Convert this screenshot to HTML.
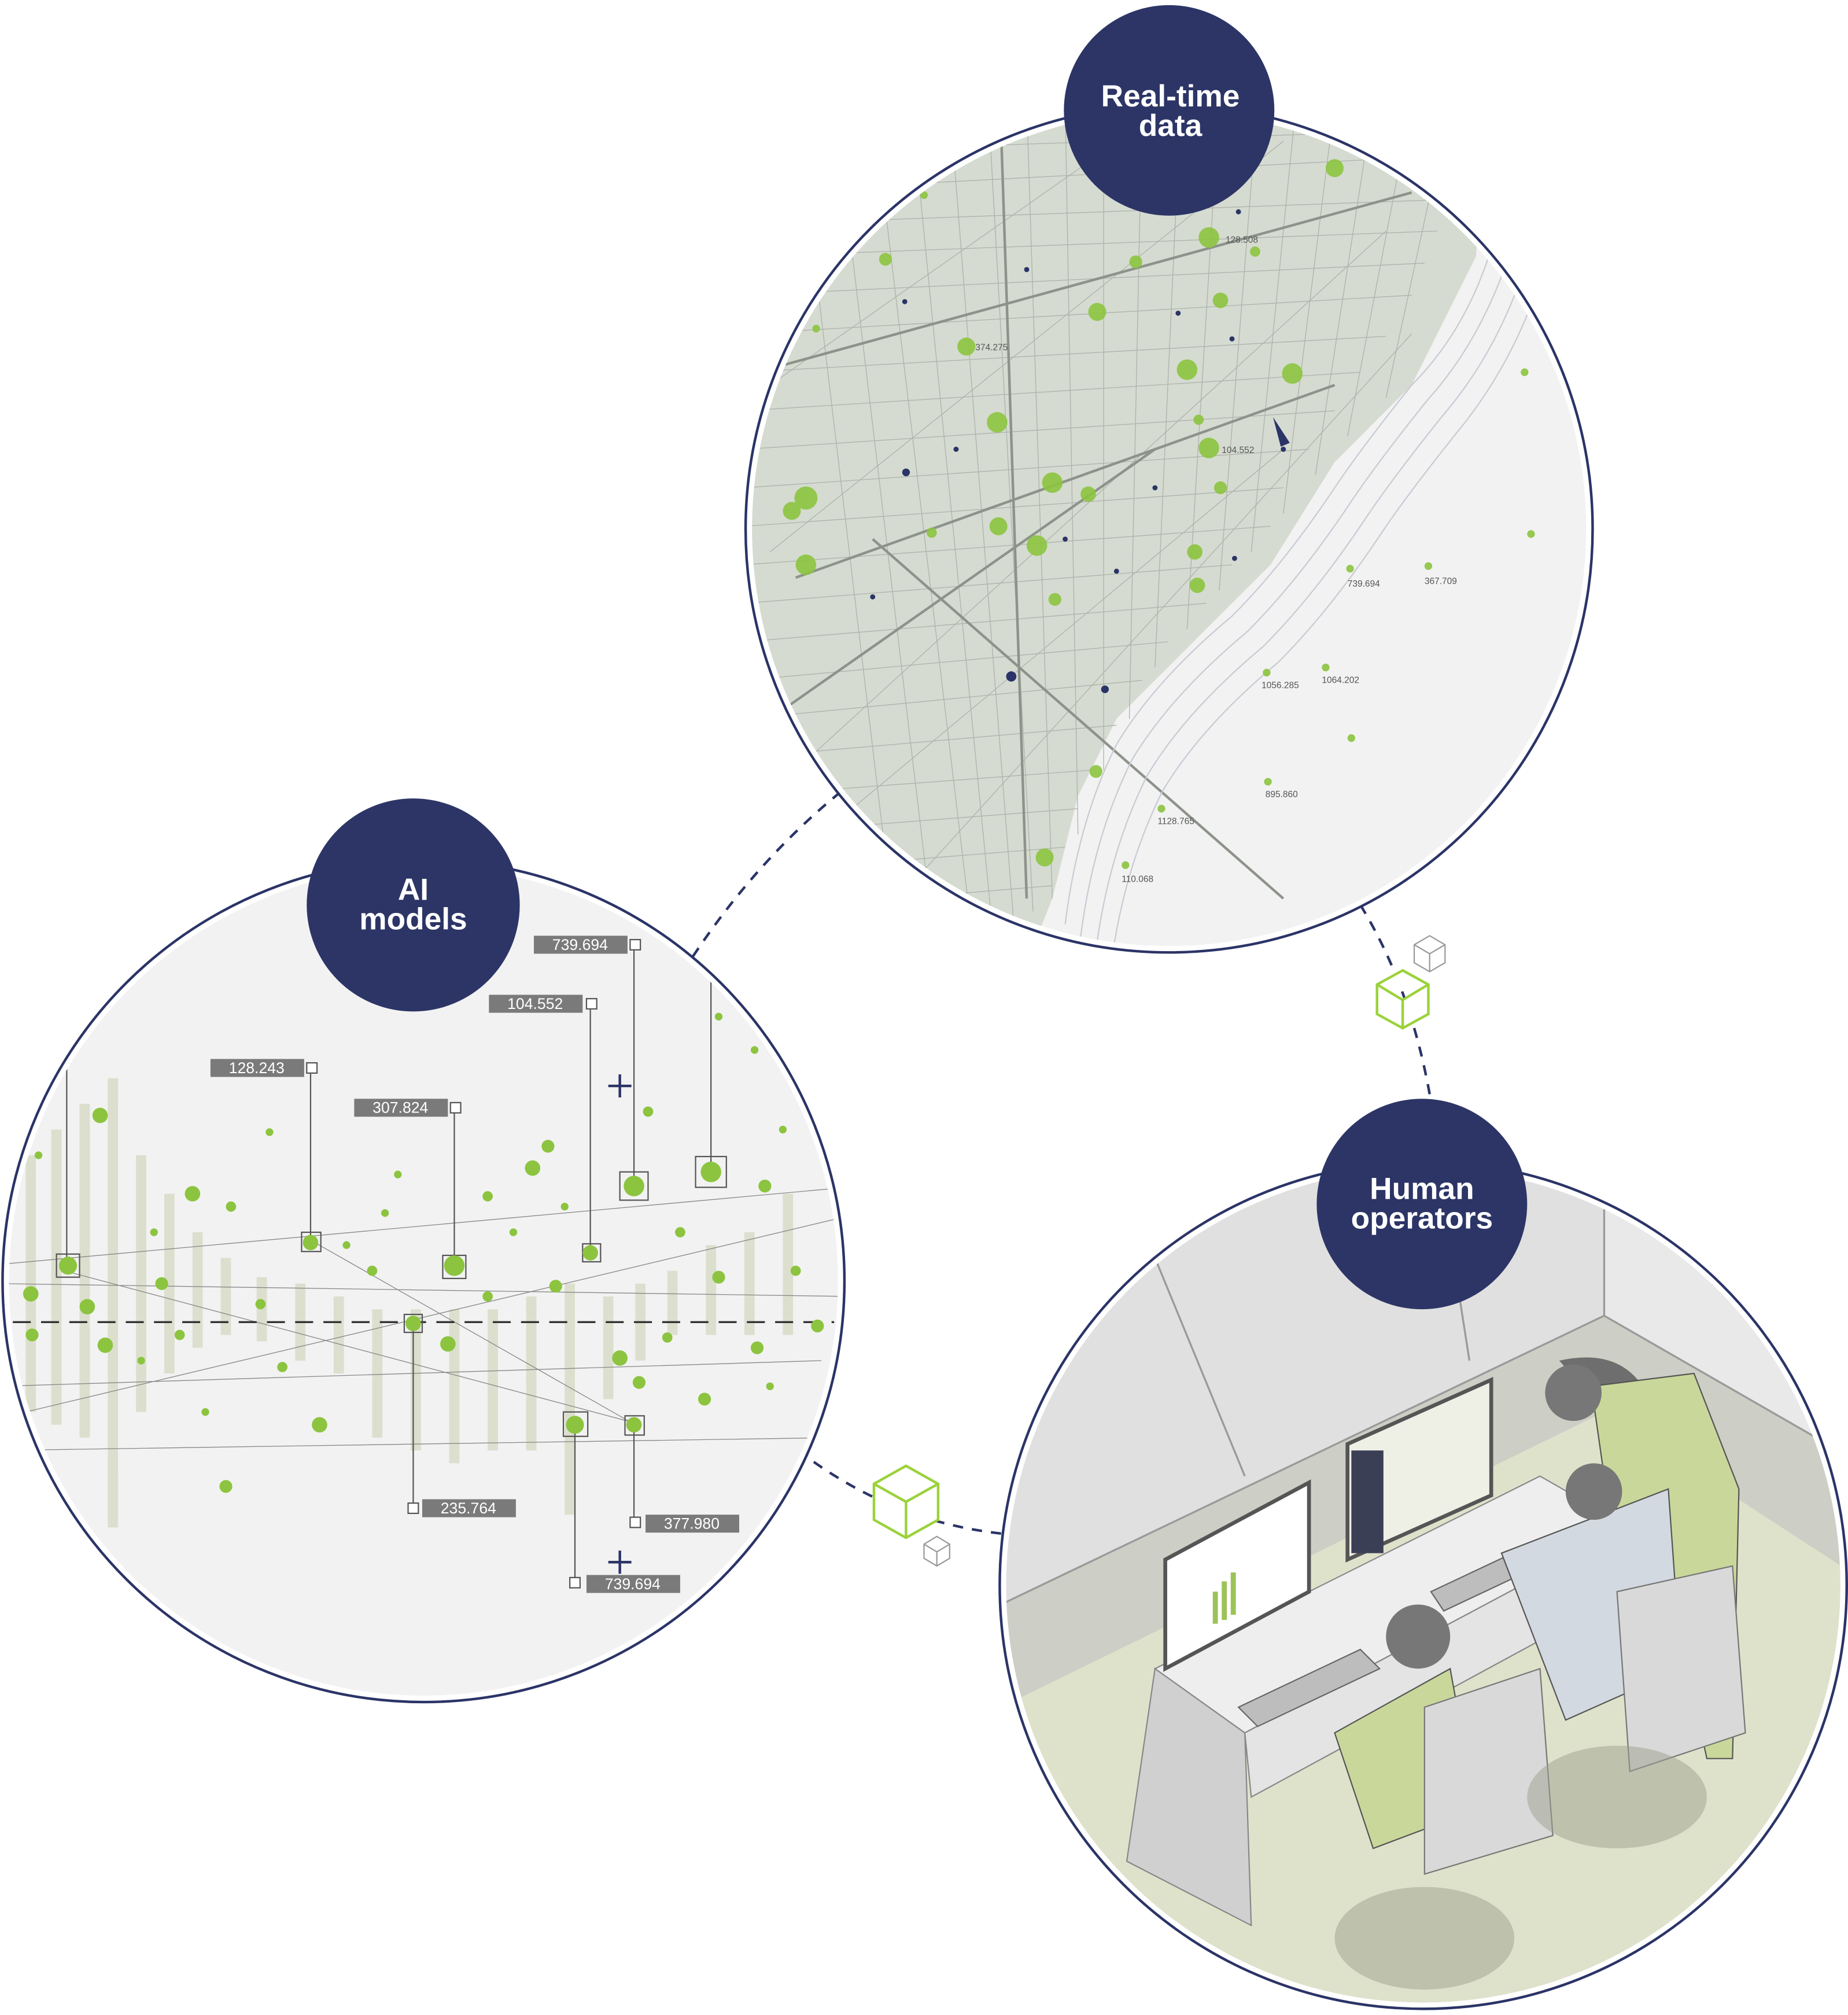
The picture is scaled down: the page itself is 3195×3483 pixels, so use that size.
<!DOCTYPE html>
<html><head><meta charset="utf-8"><style>
html,body{margin:0;padding:0;background:#fff}
svg{display:block}
text{font-family:"Liberation Sans",sans-serif}
</style></head><body>
<svg width="3195" height="3483" viewBox="0 0 1440 1569.8" xmlns="http://www.w3.org/2000/svg">
<defs>
<clipPath id="cm"><circle cx="911" cy="412" r="325"/></clipPath>
<clipPath id="ca"><circle cx="330" cy="998" r="323"/></clipPath>
<clipPath id="ch"><circle cx="1109" cy="1235" r="325"/></clipPath>
</defs>
<g fill="none" stroke="#2b3467" stroke-width="2" stroke-dasharray="8 7">
<path d="M655 617 Q590 670 540 745"/>
<path d="M622 1130 Q700 1190 795 1196"/>
<path d="M1060 705 Q1100 770 1115 858"/>
</g>
<g fill="#fff" stroke="#9bd23a" stroke-width="2">
<path d="M1093 756 L1113 767 L1113 790 L1093 801 L1073 790 L1073 767 Z M1073 767 L1093 779 L1113 767 M1093 779 L1093 801"/>
<path d="M706 1142 L731 1156 L731 1184 L706 1198 L681 1184 L681 1156 Z M681 1156 L706 1170 L731 1156 M706 1170 L706 1198"/>
</g>
<g fill="#fff" stroke="#999" stroke-width="1">
<path d="M1114 729 L1126 736 L1126 750 L1114 757 L1102 750 L1102 736 Z M1102 736 L1114 743 L1126 736 M1114 743 L1114 757"/>
<path d="M730 1197 L740 1203 L740 1214 L730 1220 L720 1214 L720 1203 Z M720 1203 L730 1209 L740 1203 M730 1209 L730 1220"/>
</g>

<!-- MAP circle -->
<circle cx="911" cy="412" r="330" fill="#fff" stroke="#2b3467" stroke-width="2"/>
<g clip-path="url(#cm)">
<rect x="580" y="80" width="670" height="670" fill="#f2f2f2"/>
<path d="M580 80 L1160 80 L1150 200 L1100 300 L1040 360 L990 440 L930 500 L870 560 L840 620 L820 700 L800 750 L580 750 Z" fill="#d5dbd0"/>
<g stroke="#aeb3ac" stroke-width="0.6" fill="none">
<path d="M580 120 L1150 100 M580 150 L1150 120 M580 175 L1140 155 M580 200 L1120 180 M580 230 L1110 205 M580 260 L1100 230 M580 290 L1080 262 M580 320 L1060 290 M580 350 L1040 320 M580 380 L1020 350 M580 410 L1000 380 M580 440 L990 410 M580 470 L960 440 M580 500 L940 470 M580 530 L910 500 M580 560 L890 530 M580 590 L870 565 M580 620 L850 600 M580 650 L840 630 M580 680 L830 660 M580 710 L820 690"/>
<path d="M620 80 L700 750 M650 80 L730 750 M680 80 L760 750 M710 80 L775 740 M740 80 L790 720 M770 80 L805 710 M800 80 L820 700 M830 80 L840 650 M860 80 L860 600 M890 80 L880 560 M920 80 L900 520 M950 80 L925 490 M980 80 L950 460 M1010 80 L975 430 M1040 80 L1000 400 M1070 80 L1025 370 M1100 80 L1050 340 M1130 80 L1080 310"/>
<path d="M600 430 L1000 110 M620 600 L1080 180 M700 700 L1100 260 M600 300 L900 90 M640 650 L1000 350"/>
</g>
<g stroke="#8d938a" stroke-width="2" fill="none">
<path d="M590 290 L1100 150 M620 450 L1040 300 M780 100 L800 700 M680 420 L1000 700 M600 560 L900 350"/>
</g>
<g stroke="#c8cbd3" stroke-width="1" fill="none">
<path d="M1160 200 Q1140 260 1100 300 Q1060 350 1040 380 Q1000 440 960 480 Q900 530 870 580 Q840 640 830 720"/>
<path d="M1172 210 Q1150 270 1112 312 Q1072 362 1052 392 Q1012 452 972 492 Q912 542 882 592 Q852 652 842 730"/>
<path d="M1184 220 Q1162 280 1124 324 Q1084 374 1064 404 Q1024 464 984 504 Q924 554 894 604 Q864 664 854 740"/>
<path d="M1196 230 Q1174 290 1136 336 Q1096 386 1076 416 Q1036 476 996 516 Q936 566 906 616 Q876 676 866 750"/>
</g>
<g fill="#2b3467">
<circle cx="918" cy="244" r="2"/><circle cx="960" cy="264" r="2"/><circle cx="800" cy="210" r="2"/><circle cx="705" cy="235" r="2"/><circle cx="830" cy="420" r="2"/>
<circle cx="870" cy="445" r="2"/><circle cx="706" cy="368" r="3"/><circle cx="788" cy="527" r="4"/><circle cx="861" cy="537" r="3"/><circle cx="962" cy="435" r="2"/>
<circle cx="965" cy="165" r="2"/><circle cx="745" cy="350" r="2"/><circle cx="680" cy="465" r="2"/><circle cx="900" cy="380" r="2"/><circle cx="1000" cy="350" r="2"/>
<path d="M992 325 L1005 345 L998 348 Z"/>
</g>
<g fill="#8cc43f" opacity="0.9">
<circle cx="1040" cy="131" r="7"/><circle cx="942" cy="185" r="8"/><circle cx="885" cy="204" r="5"/><circle cx="690" cy="202" r="5"/>
<circle cx="855" cy="243" r="7"/><circle cx="753" cy="270" r="7"/><circle cx="951" cy="234" r="6"/><circle cx="925" cy="288" r="8"/>
<circle cx="1007" cy="291" r="8"/><circle cx="777" cy="329" r="8"/><circle cx="942" cy="349" r="8"/><circle cx="820" cy="376" r="8"/>
<circle cx="628" cy="388" r="9"/><circle cx="617" cy="398" r="7"/><circle cx="778" cy="410" r="7"/><circle cx="808" cy="425" r="8"/>
<circle cx="628" cy="440" r="8"/><circle cx="848" cy="385" r="6"/><circle cx="931" cy="430" r="6"/><circle cx="933" cy="456" r="6"/>
<circle cx="822" cy="467" r="5"/><circle cx="854" cy="601" r="5"/><circle cx="814" cy="668" r="7"/><circle cx="951" cy="380" r="5"/>
<circle cx="1188" cy="290" r="3"/><circle cx="1193" cy="416" r="3"/><circle cx="1052" cy="443" r="3"/><circle cx="1113" cy="441" r="3"/>
<circle cx="987" cy="524" r="3"/><circle cx="1033" cy="520" r="3"/><circle cx="1053" cy="575" r="3"/><circle cx="988" cy="609" r="3"/>
<circle cx="905" cy="630" r="3"/><circle cx="877" cy="674" r="3"/><circle cx="726" cy="415" r="4"/><circle cx="636" cy="256" r="3"/>
<circle cx="720" cy="152" r="3"/><circle cx="978" cy="196" r="4"/><circle cx="934" cy="327" r="4"/>
</g>
<g font-size="7" fill="#555">
<text x="955" y="189">128.508</text><text x="760" y="273">374.275</text><text x="952" y="353">104.552</text>
<text x="1110" y="455">367.709</text><text x="1050" y="457">739.694</text><text x="983" y="536">1056.285</text>
<text x="1030" y="532">1064.202</text><text x="986" y="621">895.860</text><text x="902" y="642">1128.765</text><text x="874" y="687">110.068</text>
</g>
</g>
<circle cx="911" cy="86" r="82" fill="#2c3566"/>
<text x="912" y="83" fill="#fff" font-size="24" font-weight="bold" text-anchor="middle">Real-time</text>
<text x="912" y="106" fill="#fff" font-size="24" font-weight="bold" text-anchor="middle">data</text>

<!-- AI circle -->
<circle cx="330" cy="998" r="328" fill="#fff" stroke="#2b3467" stroke-width="2"/>
<circle cx="330" cy="998" r="323" fill="#f2f2f2"/>
<g clip-path="url(#ca)">
<g fill="#d9dcc8" opacity="0.85">
<rect x="20" y="900" width="8" height="200"/><rect x="40" y="880" width="8" height="230"/><rect x="62" y="860" width="8" height="260"/><rect x="84" y="840" width="8" height="350"/>
<rect x="106" y="900" width="8" height="200"/><rect x="128" y="930" width="8" height="140"/><rect x="150" y="960" width="8" height="90"/><rect x="172" y="980" width="8" height="60"/>
<rect x="200" y="995" width="8" height="50"/><rect x="230" y="1000" width="8" height="60"/>
<rect x="260" y="1010" width="8" height="60"/><rect x="290" y="1020" width="8" height="100"/><rect x="320" y="1020" width="8" height="110"/><rect x="350" y="1020" width="8" height="120"/>
<rect x="380" y="1020" width="8" height="110"/><rect x="410" y="1010" width="8" height="120"/><rect x="440" y="1000" width="8" height="180"/><rect x="470" y="1010" width="8" height="80"/>
<rect x="495" y="1000" width="8" height="60"/>
<rect x="520" y="990" width="8" height="50"/><rect x="550" y="970" width="8" height="70"/><rect x="580" y="960" width="8" height="80"/><rect x="610" y="930" width="8" height="110"/>
</g>
<g stroke="#888" stroke-width="0.6" fill="none">
<path d="M0 985 L660 925 M0 1000 L660 1010 M20 1100 L650 950 M0 1130 L650 1120 M50 990 L500 1110 M240 965 L495 1110 M0 1080 L640 1060"/>
</g>
<path d="M10 1030 L650 1030" stroke="#333" stroke-width="1.5" stroke-dasharray="14 8"/>
<g stroke="#555" stroke-width="1" fill="none">
<path d="M52 830 L52 986 M242 832 L242 968 M354 862 L354 986 M460 782 L460 976 M494 736 L494 924 M554 765 L554 913 M322 1030 L322 1175 M448 1110 L448 1233 M494 1110 L494 1186"/>
<rect x="44" y="977" width="18" height="18"/><rect x="235" y="960" width="15" height="15"/><rect x="345" y="978" width="18" height="18"/><rect x="454" y="969" width="14" height="14"/>
<rect x="483" y="913" width="22" height="22"/><rect x="542" y="901" width="24" height="24"/><rect x="315" y="1024" width="14" height="14"/><rect x="439" y="1100" width="19" height="19"/><rect x="487" y="1103" width="15" height="15"/>
</g>
<g fill="#8cc43f">
<circle cx="53" cy="986" r="7"/><circle cx="242" cy="968" r="6"/><circle cx="354" cy="986" r="8"/><circle cx="460" cy="976" r="6"/><circle cx="494" cy="924" r="8"/><circle cx="554" cy="913" r="8"/>
<circle cx="322" cy="1031" r="6"/><circle cx="448" cy="1110" r="7"/><circle cx="494" cy="1110" r="6"/>
<circle cx="78" cy="869" r="6"/><circle cx="150" cy="930" r="6"/><circle cx="24" cy="1008" r="6"/><circle cx="68" cy="1018" r="6"/><circle cx="82" cy="1048" r="6"/>
<circle cx="349" cy="1047" r="6"/><circle cx="249" cy="1110" r="6"/><circle cx="176" cy="1158" r="5"/><circle cx="415" cy="910" r="6"/><circle cx="427" cy="893" r="5"/>
<circle cx="483" cy="1058" r="6"/><circle cx="498" cy="1077" r="5"/><circle cx="549" cy="1090" r="5"/><circle cx="596" cy="924" r="5"/><circle cx="637" cy="1033" r="5"/>
<circle cx="433" cy="1002" r="5"/><circle cx="203" cy="1016" r="4"/><circle cx="126" cy="1000" r="5"/><circle cx="25" cy="1040" r="5"/><circle cx="560" cy="995" r="5"/>
<circle cx="505" cy="866" r="4"/><circle cx="560" cy="792" r="3"/><circle cx="588" cy="818" r="3"/><circle cx="210" cy="882" r="3"/><circle cx="180" cy="940" r="4"/>
<circle cx="300" cy="945" r="3"/><circle cx="380" cy="932" r="4"/><circle cx="520" cy="1042" r="4"/><circle cx="590" cy="1050" r="5"/><circle cx="140" cy="1040" r="4"/>
<circle cx="620" cy="990" r="4"/><circle cx="160" cy="1100" r="3"/><circle cx="610" cy="880" r="3"/><circle cx="30" cy="900" r="3"/><circle cx="290" cy="990" r="4"/>
<circle cx="270" cy="970" r="3"/><circle cx="400" cy="960" r="3"/><circle cx="530" cy="960" r="4"/><circle cx="110" cy="1060" r="3"/><circle cx="220" cy="1065" r="4"/>
<circle cx="380" cy="1010" r="4"/><circle cx="600" cy="1080" r="3"/><circle cx="120" cy="960" r="3"/><circle cx="310" cy="915" r="3"/><circle cx="440" cy="940" r="3"/>
</g>
<g fill="#7a7a7a">
<rect x="416" y="729" width="73" height="14"/><rect x="381" y="775" width="73" height="14"/><rect x="164" y="825" width="73" height="14"/><rect x="276" y="856" width="73" height="14"/>
<rect x="329" y="1168" width="73" height="14"/><rect x="503" y="1180" width="73" height="14"/><rect x="457" y="1227" width="73" height="14"/>
</g>
<g fill="#fff" font-family="Liberation Mono,monospace" font-size="12" text-anchor="middle">
<text x="452" y="740">739.694</text><text x="417" y="786">104.552</text><text x="200" y="836">128.243</text><text x="312" y="867">307.824</text>
<text x="365" y="1179">235.764</text><text x="539" y="1191">377.980</text><text x="493" y="1238">739.694</text>
</g>
<g fill="#fff" stroke="#555" stroke-width="1">
<rect x="491" y="732" width="8" height="8"/><rect x="457" y="778" width="8" height="8"/><rect x="239" y="828" width="8" height="8"/><rect x="351" y="859" width="8" height="8"/>
<rect x="318" y="1171" width="8" height="8"/><rect x="491" y="1182" width="8" height="8"/><rect x="444" y="1229" width="8" height="8"/>
</g>
<g stroke="#2b3467" stroke-width="2"><path d="M474 846 L492 846 M483 837 L483 855 M474 1217 L492 1217 M483 1208 L483 1226"/></g>
</g>
<circle cx="322" cy="705" r="83" fill="#2c3566"/>
<text x="322" y="701" fill="#fff" font-size="24" font-weight="bold" text-anchor="middle">AI</text>
<text x="322" y="724" fill="#fff" font-size="24" font-weight="bold" text-anchor="middle">models</text>

<!-- Human circle -->
<circle cx="1109" cy="1235" r="330" fill="#fff" stroke="#2b3467" stroke-width="2"/>
<g clip-path="url(#ch)">
<rect x="770" y="900" width="680" height="680" fill="#e0e0e0"/>
<path d="M780 1250 L1250 1025 L1450 1140 L1450 1580 L780 1580 Z" fill="#cdcec5"/>
<path d="M780 1330 L1250 1100 L1450 1230 L1450 1580 L780 1580 Z" fill="#dfe2cb"/>
<path d="M1250 900 L1250 1025 L1450 1140 L1450 900 Z" fill="#e9e9e9"/>
<g stroke="#9a9a9a" stroke-width="1.5" fill="none"><path d="M900 980 L970 1150 M1120 900 L1145 1060 M1250 900 L1250 1025 M780 1250 L1250 1025 M1250 1025 L1450 1140"/></g>
<path d="M900 1300 L1200 1150 L1270 1190 L970 1350 Z" fill="#eeeeee" stroke="#888"/>
<path d="M900 1300 L970 1350 L975 1500 L878 1450 Z" fill="#d0d0d0" stroke="#888"/>
<path d="M970 1350 L1270 1190 L1270 1240 L975 1400 Z" fill="#e4e4e4" stroke="#888"/>
<path d="M908 1215 L1020 1155 L1020 1240 L908 1300 Z" fill="#fff" stroke="#555" stroke-width="3"/>
<g fill="#9cc35a"><rect x="945" y="1240" width="4" height="25"/><rect x="952" y="1232" width="4" height="30"/><rect x="959" y="1225" width="4" height="33"/></g>
<path d="M1050 1125 L1162 1075 L1162 1165 L1050 1215 Z" fill="#eef0e6" stroke="#555" stroke-width="3"/>
<rect x="1053" y="1130" width="25" height="80" fill="#3a3f55"/>
<path d="M965 1330 L1060 1285 L1075 1300 L980 1345 Z" fill="#bdbdbd" stroke="#666"/>
<path d="M1115 1240 L1200 1200 L1210 1215 L1125 1255 Z" fill="#bdbdbd" stroke="#666"/>
<path d="M1215 1060 Q1260 1050 1280 1080 L1250 1100 Z" fill="#6e6e6e"/>
<path d="M1240 1080 L1320 1070 L1355 1160 L1350 1370 L1330 1370 L1300 1230 L1260 1220 Z" fill="#c9d89a" stroke="#555"/>
<path d="M1170 1210 L1300 1160 L1310 1300 L1220 1340 Z" fill="#d3d9e0" stroke="#555"/>
<circle cx="1242" cy="1162" r="22" fill="#777"/>
<circle cx="1226" cy="1085" r="22" fill="#777"/>
<path d="M1040 1350 L1130 1300 L1150 1410 L1070 1440 Z" fill="#c9d89a" stroke="#555"/>
<circle cx="1105" cy="1275" r="25" fill="#777"/>
<path d="M1110 1330 L1200 1300 L1210 1430 L1110 1460 Z" fill="#d9d9d9" stroke="#777"/>
<path d="M1260 1240 L1350 1220 L1360 1350 L1270 1380 Z" fill="#d9d9d9" stroke="#777"/>
<ellipse cx="1110" cy="1510" rx="70" ry="40" fill="#9ea08e" opacity="0.5"/>
<ellipse cx="1260" cy="1400" rx="70" ry="40" fill="#9ea08e" opacity="0.5"/>
</g>
<circle cx="1108" cy="938" r="82" fill="#2c3566"/>
<text x="1108" y="934" fill="#fff" font-size="24" font-weight="bold" text-anchor="middle">Human</text>
<text x="1108" y="957" fill="#fff" font-size="24" font-weight="bold" text-anchor="middle">operators</text>
</svg>
</body></html>
